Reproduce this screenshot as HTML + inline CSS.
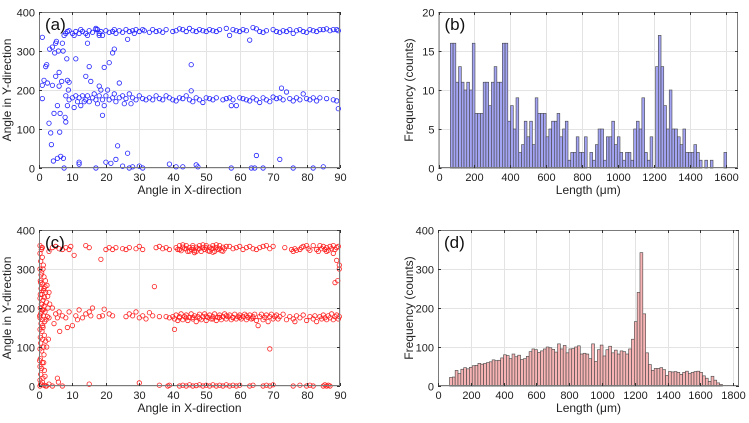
<!DOCTYPE html>
<html><head><meta charset="utf-8">
<style>
html,body{margin:0;padding:0;background:#fff;}
svg{display:block;font-family:"Liberation Sans",sans-serif;}
</style></head>
<body>
<svg id="fig" width="749" height="423" viewBox="0 0 749 423" xmlns="http://www.w3.org/2000/svg"></svg>
<script>
// ---- Data ----
const histBCounts = [16,16,11,13,11,10,11,10,16,7,7,7,11,11,8,11,13,11,11,16,16,6,8,5,9,2,3,6,4,6,3,9,7,7,7,4,5,6,6,7,4,5,6,1,2,2,4,2,2,4,
 0,2,1,3,5,5,1,4,4,6,3,4,2,1,2,2,1,5,6,5,9,2,1,4,0,13,17,13,8,5,10,5,5,4,3,5,2,2,2,3,2,1,0,1,0,1,0,0,0,0,2];
const histBRange = [66, 1605];
const histDCounts = [22,23,40,32,43,47,44,48,52,53,58,56,58,60,62,67,65,66,72,
 80,78,70,82,75,79,68,70,76,88,95,93,86,90,95,100,98,94,
 87,108,95,104,85,95,96,100,103,82,84,82,70,108,63,93,105,
 77,93,102,85,92,82,90,88,82,95,120,165,240,342,185,85,55,40,45,45,
 47,42,27,37,36,37,35,30,35,38,32,35,37,38,35,26,20,12,25,15,8,4];
const histDRange = [70, 1735];
const angleTicksX = [0,10,20,30,40,50,60,70,80,90];
const angleTicksY = [0,100,200,300,400];
const histBTicksX = [0,200,400,600,800,1000,1200,1400,1600];
const histBTicksY = [0,5,10,15,20];
const histDTicksX = [0,200,400,600,800,1000,1200,1400,1600,1800];
const histDTicksY = [0,100,200,300,400];

const scatterA = [
[7.5,340],[8,345],[8.5,350],[9,352],[10,345],[10.5,340],[11,350],[12,345],[12.5,355],[13,350],[14,345],[14.5,340],[15,352],[16,348],[17,358],[17.5,355],[18,345],[18.5,350],[19,340],[20,352],[21,348],[22,350],[22.5,355],[23,345],[24,352],[25,348],[26,355],[26.5,330],[27,350],[28,352],[28.5,345],[29,355],[30,350],[31,355],[31.5,352],[33,348],[34,355],[35,350],[36,352],[37,348],[38,355],[40,350],[41,352],[42,357],[43,355],[44,350],[45,358],[46,352],[47,350],[48,355],[49,352],[50,350],[51,355],[52,352],[53,350],[54,355],[56,358],[57,340],[58,355],[59,352],[60,350],[61,355],[62,352],[63,328],[64,360],[65,357],[66,350],[67,348],[68,352],[70,355],[71,350],[72,348],[73,352],[74,350],[75,355],[76,345],[77,352],[78,355],[79,350],[80,348],[81,355],[82,352],[83,350],[84,355],[85,355],[86,357],[87,352],[88,355],[89,355],[89.5,352],
[8,185],[8.5,160],[9,175],[10,180],[10.5,155],[11,185],[11.5,170],[12,180],[12.5,160],[13,185],[13.5,170],[14,175],[14.5,185],[15,170],[16,180],[16.5,190],[17,175],[17.5,165],[18,185],[18.5,200],[19,175],[19.5,160],[20,185],[21,175],[22,180],[22.5,190],[23,170],[24,180],[25,185],[25.5,165],[26,178],[27,190],[27.5,165],[28,180],[29,175],[30,185],[31,178],[32,175],[33,180],[34,175],[35,185],[36,178],[37,175],[38,185],[39,180],[40,175],[41,172],[42,180],[43,178],[44,185],[45,175],[45.5,198],[46,170],[47,180],[48,175],[49,168],[50,180],[51,178],[52,175],[53,180],[55,175],[56,178],[57,180],[57.5,160],[58,175],[59,160],[60,180],[61,178],[62,175],[63,172],[64,180],[65,175],[66,168],[67,180],[68,175],[69,170],[70,182],[71,178],[72,180],[72.5,205],[73,175],[74,195],[75,178],[76,172],[77,180],[78,175],[79,190],[80,178],[81,175],[82,180],[83,172],[84,180],[86,178],[88,175],[89,172],[89.5,152],
[1,335],[1,178],[1,212],[1.5,225],[2,260],[2.3,265],[2.5,218],[3,115],[3.2,305],[3.5,90],[3.7,60],[4,310],[4,212],[4.3,18],[4.5,140],[4.7,295],[5,235],[5,320],[5.2,325],[5.5,25],[5.5,160],[5.8,300],[6,210],[6,245],[6.2,92],[6.3,140],[6.5,30],[6.8,222],[7,320],[7.2,300],[7.3,25],[7.5,0],[7.8,130],[8,118],[8.3,280],[8.5,225],[8.8,200],[9,220],[11,280],[12,10],[12,15],[14,235],[14.5,320],[15,260],[15.5,222],[17,0],[18,210],[19,135],[19.5,258],[20,15],[20.5,200],[21,270],[21.5,12],[22,295],[22.5,305],[23,22],[23.5,57],[24,218],[25,5],[26.5,38],[27,0],[28,3],[30,5],[31,0],[39,10],[41,3],[43,3],[45.5,265],[47,8],[47.5,3],[57.5,0],[63.5,0],[64.5,0],[65,32],[67,0],[72,22],[76,0],[82,0],[85,3],[17,355],[18,340]
];

const scatterC = [
[0.3,360],[0.8,355],[0.3,340],[1,330],[0.5,320],[1.3,310],[0.3,300],[0.8,290],[1.5,280],[0.4,270],[1,262],[1.8,255],[0.6,250],[1.3,245],[2,240],[0.9,235],[1.6,228],[0.3,225],[1.2,220],[2.2,215],[0.7,210],[1.5,205],[0.4,200],[1,195],[1.8,190],[0.5,185],[1.3,180],[2.5,178],[0.3,175],[1,170],[1.7,165],[0.6,160],[1.2,150],[0.3,145],[0.9,140],[1.6,130],[0.4,125],[1.1,120],[2,115],[0.5,110],[1.4,100],[0.3,95],[0.8,90],[1.5,80],[0.4,70],[1,60],[0.3,50],[0.8,45],[1.6,40],[0.5,30],[1.2,20],[0.3,15],[1,10],[0.5,5],[1.5,2],[0.3,0],[2.2,0],[0.6,285],[1.9,270],[0.4,235],[2.4,258],[0.7,190],[2.7,200],[1.1,155],[2.3,100],[0.2,65],[1.8,25],[0.7,350],[1.2,300],[2.8,120],[1.4,60],[3,240],[2.6,230],[3.2,210],[0.2,180],[0.9,210],[1.5,250],[0.5,265],[1.3,195],[2.1,170],
[3,175],[4,200],[4.5,160],[5,185],[5.5,175],[6,190],[6.2,140],[7,180],[8,175],[8.5,150],[9,190],[10,155],[11,180],[11.5,170],[12,195],[13,175],[14,185],[15,190],[15.5,180],[16,200],[18,178],[19,180],[19.5,197],[21,185],[22,180],[26,178],[27,185],[28,180],[29,190],[30,175],[31,180],[32,172],[33,188],[34,180],[36,178],[38,178],[39,175],
[1,355],[3,345],[4,355],[5,358],[6,352],[7,350],[8,355],[9,350],[9.5,358],[10.5,335],[14,360],[15,355],[18.5,325],[20,350],[21,355],[22,350],[23,355],[25,352],[26,350],[27,355],[29,352],[30,358],[31,350],[34.5,255],[35,355],[36,358],[37,352],[38,355],[39,350],
[2,0],[3,5],[4,0],[5.5,20],[5.8,10],[7,0],[15,5],[30,8],[36,2],[38.5,0],[39,2],[40.5,145],
[41,355],[41.5,350],[42,360],[42.5,347],[43,356],[43.5,352],[44,360],[44.5,345],[45,355],[45.5,350],[46,360],[46.5,347],[47,356],[47.5,352],[48,360],[48.5,345],[49,355],[49.5,350],[50,360],[50.5,347],[51,356],[51.5,352],[52,360],[52.5,345],[53,355],[53.5,350],[54,360],[54.5,347],[55,356],[55.5,352],[56,358],[42,350],[43,362],[44,352],[45,346],[46,355],[47,345],[48,352],[49,362],[50,354],[51,345],[52,353],[53,362],[54,352],[55,346],[46.5,342],[52,343],
[57,358],[58,352],[59,355],[60,358],[61,350],[62,355],[63,358],[64,352],[65,350],[66,355],[67,358],[68,360],[69,352],[70,358],[73.5,355],[75.5,350],[76,345],[76.5,352],[77,348],[78,350],[78.5,355],[79,358],[80,360],[80.5,352],[81,348],[82,360],[83,350],[83.5,345],[84,360],[84.5,352],[85,358],[85.5,350],[86,355],[86.5,348],[87,358],[87.5,352],[88,360],[88.5,350],[89,355],[89.5,358],[86,345],[88,340],[89.8,310],[89.8,300],[88.5,265],[89,322],[89.3,270],
[40,178],[40.5,172],[41,182],[41.5,168],[42,178],[42.5,185],[43,170],[43.5,178],[44,182],[44.5,168],[45,176],[45.5,185],[46,172],[46.5,180],[47,165],[47.5,178],[48,184],[48.5,170],[49,178],[49.5,185],[50,168],[50.5,176],[51,182],[51.5,172],[52,178],[52.5,185],[53,168],[53.5,176],[54,182],[54.5,170],[55,178],[55.5,185],[56,172],[56.5,178],[57,182],[57.5,170],[58,176],[58.5,184],[59,172],[59.5,178],[60,182],[60.5,172],[61,178],[61.5,184],[62,170],[62.5,176],[63,182],[63.5,172],[64,178],[64.5,184],[65,168],[65.5,155],[66,178],[66.5,184],[67,170],[67.5,176],[68,182],[68.5,165],[69,178],[69.5,184],[70,172],[70.5,178],[71,182],[71.5,172],[72,178],[73,184],[74,170],[75,178],[76,172],[76.5,165],[77,180],[78,175],[79,182],[80,168],[81,178],[82,172],[82.5,180],[83,165],[84,178],[84.5,172],[85,182],[85.5,175],[86,170],[86.5,180],[87,175],[87.5,185],[88,170],[88.5,178],[89,182],[89.5,172],[89.8,178],[42,175],[44,175],[46,176],[48,174],[50,179],[52,172],[54,176],[56,180],[58,175],[60,176],[62,180],[64,174],[69,95],
[42,0],[43,2],[44,0],[45,3],[46,0],[47,1],[48,3],[49,0],[50,2],[51,0],[52,3],[53,0],[54,2],[55,0],[56,3],[57,0],[58,2],[59,0],[60,2],[63,0],[64,2],[67,0],[68,2],[69,0],[70,3],[76,0],[78,2],[80,0],[81,2],[82,0],[85,0],[85.5,3],[86,0],[86.5,2],[87,0]
];

// ---- Drawing ----
const NS = "http://www.w3.org/2000/svg";
const svg = document.getElementById('fig');
function mk(tag, attrs, parent){
  const e = document.createElementNS(NS, tag);
  for (const k in attrs) e.setAttribute(k, attrs[k]);
  (parent||svg).appendChild(e);
  return e;
}
function axes(cfg){
  const g = mk('g', {});
  
  
  const sx = v => cfg.L + (v - cfg.x0) / (cfg.x1 - cfg.x0) * (cfg.R - cfg.L);
  const sy = v => cfg.B - (v - cfg.y0) / (cfg.y1 - cfg.y0) * (cfg.B - cfg.T);
  cfg.sx = sx; cfg.sy = sy; cfg.g = g;
  mk('rect', {x:cfg.L, y:cfg.T, width:cfg.R-cfg.L, height:cfg.B-cfg.T, fill:'#fff'}, g);
  const grid = mk('g', {stroke:'#e3e3e3', 'stroke-width':1}, g);
  
  
  cfg.xt.forEach(v => { const x = Math.round(sx(v))+0.5; mk('line',{x1:x,x2:x,y1:cfg.T,y2:cfg.B},grid); });
  cfg.yt.forEach(v => { const y = Math.round(sy(v))+0.5; mk('line',{x1:cfg.L,x2:cfg.R,y1:y,y2:y},grid); });
  return g;
}
function frame(cfg){
  const g = cfg.g;
  const box = mk('rect', {x:cfg.L+0.5, y:cfg.T+0.5, width:cfg.R-cfg.L-1, height:cfg.B-cfg.T-1, fill:'none', stroke:'#7a7a7a', 'stroke-width':1}, g);
  
  
  cfg.xt.forEach(v => {
    const x = Math.round(cfg.sx(v))+0.5;
    mk('line',{x1:x,x2:x,y1:cfg.B,y2:cfg.B-3,stroke:'#333'},g);
    mk('line',{x1:x,x2:x,y1:cfg.T,y2:cfg.T+3,stroke:'#333'},g);
    const t = mk('text',{x:x,y:cfg.B+13,'font-size':11,'text-anchor':'middle',fill:'#222'},g);
    t.textContent = v;
    
    
  });
  cfg.yt.forEach(v => {
    const y = Math.round(cfg.sy(v))+0.5;
    mk('line',{x1:cfg.L,x2:cfg.L+3,y1:y,y2:y,stroke:'#333'},g);
    mk('line',{x1:cfg.R,x2:cfg.R-3,y1:y,y2:y,stroke:'#333'},g);
    const t = mk('text',{x:cfg.L-4,y:y+4,'font-size':11,'text-anchor':'end',fill:'#222'},g);
    t.textContent = v;
    
    
  });
  const xl = mk('text',{x:(cfg.L+cfg.R)/2,y:cfg.B+26,'font-size':12,'text-anchor':'middle',fill:'#222'},g);
  xl.textContent = cfg.xlabel;
  
  
  const yx = cfg.ylx, yy = (cfg.T+cfg.B)/2;
  const yl = mk('text',{x:yx,y:yy,'font-size':12,'text-anchor':'middle',fill:'#222',transform:`rotate(-90 ${yx} ${yy})`},g);
  yl.textContent = cfg.ylabel;
  
  
  const pl = mk('text',{x:cfg.L+6,y:cfg.T+18,'font-size':17,fill:'#111'},g);
  pl.textContent = cfg.tag;
  
  
}
function scatter(cfg, pts, color){
  const g = mk('g', {fill:'none', stroke:color, 'stroke-width':0.8}, cfg.g);
  
  
  pts.forEach(p => {
    const c = mk('circle', {cx:cfg.sx(p[0]).toFixed(1), cy:cfg.sy(p[1]).toFixed(1), r:2.2}, g);
    
    
  });
}
function hist(cfg, counts, range, fill){
  const g = mk('g', {fill:fill, stroke:'#444', 'stroke-width':0.6}, cfg.g);
  
  
  const w = (range[1]-range[0]) / counts.length;
  counts.forEach((c,i) => {
    const x0 = cfg.sx(range[0]+i*w), x1 = cfg.sx(range[0]+(i+1)*w);
    const y = cfg.sy(c);
    const r = mk('rect', {x:x0.toFixed(2), y:y.toFixed(2), width:(x1-x0).toFixed(2), height:Math.max(0,cfg.B-y).toFixed(2)}, g);
    
    
  });
}

const A = {name:'panel-a', L:39, R:340, T:12, B:168, x0:0, x1:90, y0:0, y1:400, xt:angleTicksX, yt:angleTicksY, xlabel:'Angle in X-direction', ylabel:'Angle in Y-direction', ylx:11, tag:'(a)'};
axes(A); scatter(A, scatterA, '#2020ff'); frame(A);

const Bp = {name:'panel-b', L:438.5, R:738, T:12, B:168, x0:0, x1:1668, y0:0, y1:20, xt:histBTicksX, yt:histBTicksY, xlabel:'Length (\u03bcm)', ylabel:'Frequency (counts)', ylx:413, tag:'(b)'};
axes(Bp); hist(Bp, histBCounts, histBRange, '#a4a4f4'); frame(Bp);

const C = {name:'panel-c', L:39, R:340, T:230, B:386, x0:0, x1:90, y0:0, y1:400, xt:angleTicksX, yt:angleTicksY, xlabel:'Angle in X-direction', ylabel:'Angle in Y-direction', ylx:11, tag:'(c)'};
axes(C); scatter(C, scatterC, '#ff2020'); frame(C);

const D = {name:'panel-d', L:438, R:739, T:230, B:386, x0:0, x1:1836, y0:0, y1:400, xt:histDTicksX, yt:histDTicksY, xlabel:'Length (\u03bcm)', ylabel:'Frequency (counts)', ylx:413, tag:'(d)'};
axes(D); hist(D, histDCounts, histDRange, '#f8b4b4'); frame(D);
</script>
</body></html>
